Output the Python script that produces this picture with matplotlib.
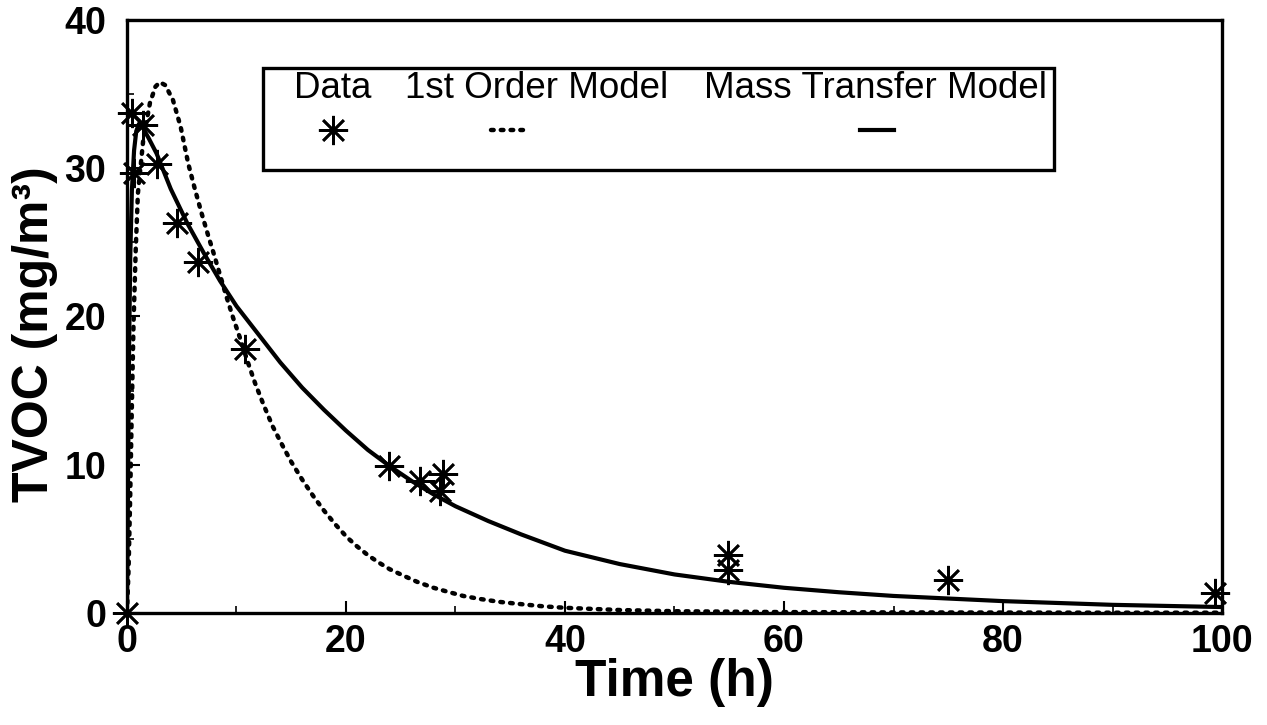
import matplotlib
matplotlib.use("Agg")
import matplotlib.pyplot as plt
from matplotlib.lines import Line2D
from matplotlib.patches import Rectangle

plt.rcParams['font.family'] = ['Liberation Sans', 'DejaVu Sans']

# measured data (time in h, TVOC in mg/m3)
data_t = [0.0, 0.45, 0.6, 1.5, 2.7, 4.6, 6.5, 10.8, 23.9, 26.8, 28.9, 28.6, 54.9, 54.9, 75.0, 99.4]
data_c = [0.0, 33.7, 29.7, 32.9, 30.3, 26.3, 23.7, 17.8, 9.9, 8.9, 9.4, 8.2, 3.9, 2.9, 2.2, 1.35]

# 1st order model curve
first_t = [0.0, 0.15, 0.3, 0.45, 0.6, 0.8, 1.0, 1.5, 2.1, 2.6, 3.0, 3.5, 4.2, 4.9, 5.6,
           6.2, 6.8, 7.4, 7.9, 8.5, 9.1, 9.7, 10.3, 11.0, 11.7, 12.5, 13.3, 14.2, 15.0,
           16.0, 17.0, 18.0, 19.0, 20.1, 21.0, 22.0, 23.0, 24.0, 25.3, 26.5, 28.0,
           29.2, 30.7, 32.2, 34.0, 36.2, 38.0, 40.0, 45.0, 50.0, 60.0, 70.0, 80.0, 90.0, 100.0]
first_c = [0.0, 3.0, 8.0, 14.0, 19.5, 24.5, 28.3, 32.0, 34.4, 35.5, 35.8, 35.6, 34.6, 32.8, 30.3,
           28.6, 27.0, 25.5, 24.3, 22.8, 21.3, 19.9, 18.6, 17.0, 15.5, 14.0, 12.6, 11.3, 10.2,
           9.0, 7.9, 6.9, 6.0, 5.1, 4.5, 3.9, 3.4, 2.95, 2.5, 2.1, 1.7,
           1.45, 1.15, 0.95, 0.75, 0.58, 0.45, 0.35, 0.2, 0.12, 0.06, 0.04, 0.03, 0.02, 0.02]

# mass transfer model curve
mass_t = [0.0, 0.1, 0.2, 0.3, 0.45, 0.65, 0.85, 1.1, 1.4, 2.0, 2.7, 4.0, 5.5, 7.0, 8.5,
          10.0, 12.0, 14.0, 16.0, 18.0, 20.0, 22.0, 24.0, 26.0, 28.0, 30.0, 33.0, 36.0,
          40.0, 45.0, 50.0, 55.0, 60.0, 65.0, 70.0, 80.0, 90.0, 100.0]
mass_c = [0.0, 9.0, 18.0, 24.0, 28.5, 31.2, 32.5, 33.0, 32.8, 32.0, 31.0, 28.6, 26.3, 24.3, 22.4,
          20.7, 18.8, 16.9, 15.2, 13.7, 12.3, 11.0, 9.9, 8.9, 8.0, 7.2, 6.2, 5.3,
          4.2, 3.3, 2.6, 2.1, 1.7, 1.4, 1.15, 0.8, 0.55, 0.4]

x_ticks = [0, 20, 40, 60, 80, 100]
y_ticks = [0, 10, 20, 30, 40]

star = (8, 2, 0)
dots = (0, (0.6, 1.6))

fig = plt.figure(figsize=(12.67, 7.25), dpi=100)
ax = fig.add_axes([0.1002, 0.1545, 0.8643, 0.818])

ax.plot(first_t, first_c, color='black', lw=3.2, linestyle=dots,
        dash_capstyle='round')
ax.plot(mass_t, mass_c, color='black', lw=3.0, solid_joinstyle='round')
ax.plot(data_t, data_c, linestyle='none', marker=star, ms=21, mew=1.9,
        color='black', clip_on=False)

ax.set_xlim(0, 100)
ax.set_ylim(0, 40)
ax.set_xticks(x_ticks)
ax.set_yticks(y_ticks)
ax.set_xticks(range(10, 100, 20), minor=True)
ax.set_yticks(range(5, 40, 10), minor=True)
ax.tick_params(which='major', direction='in', length=9, width=1.5, labelsize=27)
ax.tick_params(axis='y', which='major', pad=15)
ax.tick_params(axis='x', which='major', pad=8)
ax.tick_params(which='minor', direction='in', length=5, width=1.2)
for lab in ax.get_xticklabels() + ax.get_yticklabels():
    lab.set_fontweight('bold')
for sp in ax.spines.values():
    sp.set_linewidth(2.4)

ax.set_xlabel('Time (h)', fontsize=37, fontweight='bold', va='center')
ax.set_ylabel('TVOC (mg/m³)', fontsize=36, fontweight='bold', va='center')
ax.xaxis.set_label_coords(0.5, -0.118)
ax.yaxis.set_label_coords(-0.084, 0.47)

# legend box drawn by hand: labels above their symbols
ax.add_patch(Rectangle((0.124, 0.747), 0.723, 0.172, transform=ax.transAxes,
                       fill=False, lw=2.4, color='black', zorder=5))
legend_fs = 26.5
ax.text(0.188, 0.885, 'Data', transform=ax.transAxes, ha='center', va='center', fontsize=legend_fs)
ax.text(0.374, 0.885, '1st Order Model', transform=ax.transAxes, ha='center', va='center', fontsize=legend_fs)
ax.text(0.684, 0.885, 'Mass Transfer Model', transform=ax.transAxes, ha='center', va='center', fontsize=legend_fs)
ax.add_line(Line2D([0.188], [0.815], transform=ax.transAxes, linestyle='none', marker=star,
                   ms=21, mew=1.9, color='black'))
ax.add_line(Line2D([0.332, 0.366], [0.815, 0.815], transform=ax.transAxes, color='black',
                   lw=3.2, linestyle=dots, dash_capstyle='round'))
ax.add_line(Line2D([0.669, 0.70], [0.815, 0.815], transform=ax.transAxes, color='black', lw=3.0))

fig.savefig('out.png', dpi=100)
